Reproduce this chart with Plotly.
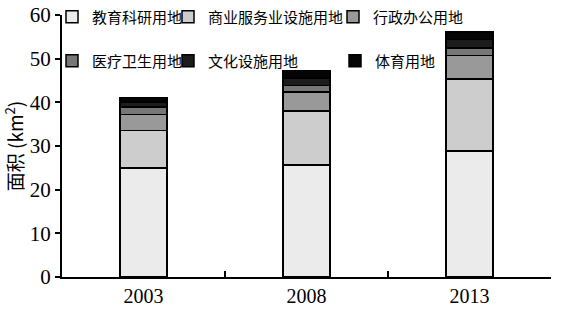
import plotly.graph_objects as go

years = ["2003", "2008", "2013"]
names = ["教育科研用地", "商业服务业设施用地", "行政办公用地", "医疗卫生用地", "文化设施用地", "体育用地"]
edu = [25.0, 25.7, 28.9]
com = [8.5, 12.3, 16.5]
adm = [3.7, 4.4, 5.3]
med = [1.7, 1.4, 1.7]
cul = [1.2, 1.8, 2.0]
spo = [1.0, 1.7, 1.7]
series = [edu, com, adm, med, cul, spo]
colors = ["#ebebeb", "#cdcdcd", "#999999", "#777777", "#1c1c1c", "#050505"]

# legend placement (pixel text-start, row center)
leg_pos = [(92, 17), (208, 17), (373, 17), (92, 61), (208, 61), (375, 61)]
L, R, T, B = 62, 13, 15, 38
W, H = 564, 315
pw, ph = W - L - R, H - T - B

fig = go.Figure()
for i, (nm, vals, col) in enumerate(zip(names, series, colors)):
    lname = "legend" if i == 0 else f"legend{i+1}"
    fig.add_trace(go.Bar(
        x=years, y=vals, name=nm, marker=dict(color=col, line=dict(color="#000", width=1.5)),
        width=0.29, legend=lname, showlegend=True,
    ))

layout_leg = {}
for i, (px, py) in enumerate(leg_pos):
    lname = "legend" if i == 0 else f"legend{i+1}"
    layout_leg[lname] = dict(
        x=(px - 40 - L) / pw, y=(H - B - py) / ph, xanchor="left", yanchor="middle",
        bgcolor="rgba(0,0,0,0)", borderwidth=0,
        font=dict(family="Noto Sans CJK SC", size=15, color="#000"),
        itemwidth=30,
    )

fig.update_layout(
    barmode="stack", width=W, height=H, showlegend=True,
    margin=dict(l=L, r=R, t=T, b=B, autoexpand=False),
    plot_bgcolor="white", paper_bgcolor="white",
    xaxis=dict(range=[-0.5, 2.5], showline=True, linecolor="#000", linewidth=2,
               ticks="inside", tickson="boundaries", ticklen=6, tickwidth=1.5, tickcolor="#000",
               tickfont=dict(family="Liberation Serif", size=20, color="#000"), showgrid=False),
    yaxis=dict(range=[0, 60], dtick=10, showline=True, linecolor="#000", linewidth=2,
               ticks="outside", ticklen=5, tickwidth=1.5, tickcolor="#000",
               tickfont=dict(family="Liberation Serif", size=21, color="#000"),
               showgrid=False, zeroline=False,
               title=dict(text="面积 (km<sup>2</sup>)", standoff=6,
                          font=dict(family="Noto Sans CJK SC, Liberation Serif", size=19, color="#000"))),
    **layout_leg,
)
fig.write_html("out.html")
